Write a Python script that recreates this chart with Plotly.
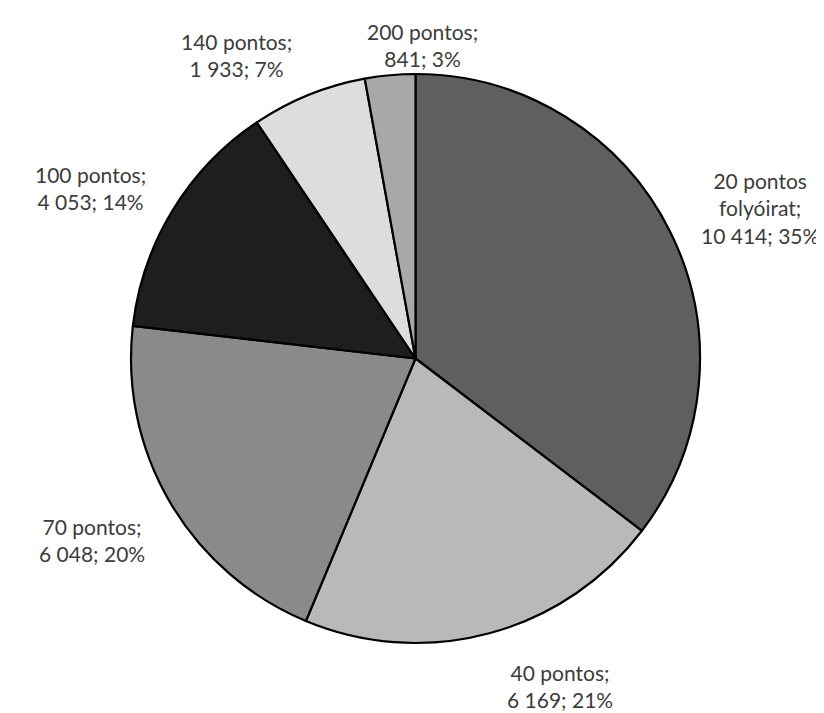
import plotly.graph_objects as go

categories = ["20 pontos<br>folyóirat", "40 pontos", "70 pontos", "100 pontos", "140 pontos", "200 pontos"]
values = [10414, 6169, 6048, 4053, 1933, 841]
value_labels = ["10 414", "6 169", "6 048", "4 053", "1 933", "841"]
percent_labels = ["35%", "21%", "20%", "14%", "7%", "3%"]
colors = ["#5f5f5f", "#b9b9b9", "#8a8a8a", "#1e1e1e", "#dddddd", "#a8a8a8"]

W, H = 824, 713
# label block centre positions in pixels
label_pos = [(752, 200), (552, 678), (84, 532), (82, 180), (228, 47), (414, 37)]

fig = go.Figure(go.Pie(
    labels=categories,
    values=values,
    sort=False,
    direction="clockwise",
    rotation=0,
    marker=dict(colors=colors, line=dict(color="#000000", width=2.2)),
    textinfo="none",
    hoverinfo="label+value+percent",
    domain=dict(x=[122 / W, 693 / W], y=[1 - 635 / H, 1 - 66 / H]),
    showlegend=False,
))

annotations = []
for cat, v, p, (px, py) in zip(categories, value_labels, percent_labels, label_pos):
    annotations.append(dict(
        x=px / W, y=1 - py / H, xref="paper", yref="paper",
        text=f"{cat};<br>{v}; {p}",
        showarrow=False, xanchor="center", yanchor="middle",
        font=dict(family="Lato, Open Sans, sans-serif", size=21, color="#3c3c3c"),
        align="center",
    ))

fig.update_layout(
    width=W, height=H,
    margin=dict(l=0, r=0, t=0, b=0),
    paper_bgcolor="white",
    plot_bgcolor="white",
    annotations=annotations,
)

fig.write_html("out.html")
